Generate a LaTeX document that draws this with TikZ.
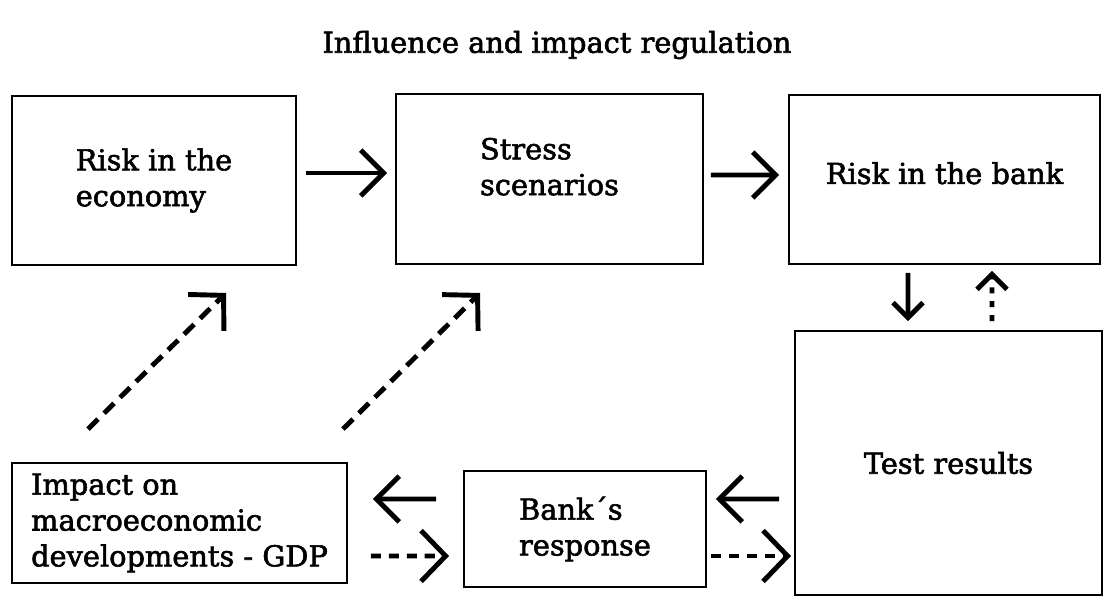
\documentclass[tikz,border=0pt]{standalone}
\usepackage{fontspec}
\setmainfont{DejaVu Serif}[FakeBold=2]
\usepackage{tikz}
\usetikzlibrary{arrows.meta}

\begin{document}
\begin{tikzpicture}
	[main node/.style={rectangle, draw, line width=1.1pt, align=left, inner sep=0pt},
	 solid arrow/.style={line width=2.8pt, -{Straight Barb[length=13pt, width=26pt, line width=2.8pt]}},
	 dash arrow/.style={line width=2.8pt, dash pattern=on 8pt off 4.8pt, -{Straight Barb[length=14pt, width=29pt, line width=2.8pt, line cap=butt]}},
	 dot arrow/.style={line width=2.8pt, dash pattern=on 5.7pt off 4.5pt, -{Straight Barb[length=14pt, width=29pt, line width=2.8pt]}},
	 font=\fontsize{16.4}{20.4}\selectfont]
	\useasboundingbox (0,0) rectangle (22.1,-11.92);

	\node (title) at (11.14,-0.90) {Influence and impact regulation};

	%top row
	\node[main node, minimum width=5.68cm, minimum height=3.38cm] (econ) at (3.08,-3.61) {Risk in the\\economy};
	\node[main node, minimum width=6.14cm, minimum height=3.40cm, text depth=0.5cm] (stress) at (10.99,-3.58) {Stress\\scenarios};
	\node[main node, minimum width=6.22cm, minimum height=3.38cm, text depth=0.26cm] (riskbank) at (18.89,-3.59) {Risk in the bank};

	%bottom row
	\node[main node, minimum width=6.14cm, minimum height=5.28cm] (test) at (18.97,-9.26) {Test results};
	\node[main node, minimum width=4.84cm, minimum height=2.32cm] (response) at (11.70,-10.58) {Bank\textasciiacute s\\response};
	\node[main node, minimum width=6.70cm, minimum height=2.40cm] (impact) at (3.59,-10.46) {Impact on\\macroeconomic\\developments - GDP};

	\draw[solid arrow] ([shift={(0.18,0.15)}]econ.east) -- ([shift={(-0.16,0.12)}]stress.west);
	\draw[solid arrow] ([shift={(0.14,0.08)}]stress.east) -- ([shift={(-0.18,0.09)}]riskbank.west);

	\draw[solid arrow, -{Straight Barb[length=8.5pt, width=17pt, line width=2.8pt]}]
		([shift={(-0.73,-0.16)}]riskbank.south) -- ([xshift=-0.73cm, yshift=0.18cm]riskbank.south |- test.north); %down
	\draw[dot arrow, dash pattern=on 3.4pt off 4.5pt, -{Straight Barb[length=8.5pt, width=17pt, line width=2.8pt]}]
		([xshift=0.95cm, yshift=0.18cm]riskbank.south |- test.north) -- ([shift={(0.95,-0.12)}]riskbank.south); %up

	\draw[dash arrow] ([shift={(-1.83,0.66)}]impact.north) -- ([shift={(1.44,-0.54)}]econ.south);
	\draw[dash arrow] ([shift={(-0.10,0.66)}]impact.north east) -- ([shift={(-1.39,-0.56)}]stress.south);

	\draw[solid arrow] ([shift={(-0.30,-0.72)}]test.west) -- ([shift={(0.18,0.60)}]response.east);
	\draw[dot arrow] ([shift={(0.08,-0.54)}]response.east) -- ([shift={(-0.06,-1.86)}]test.west);
	\draw[solid arrow] ([shift={(-0.54,0.60)}]response.west) -- ([shift={(0.50,0.48)}]impact.east);
	\draw[dot arrow] ([shift={(0.46,-0.66)}]impact.east) -- ([shift={(-0.28,-0.54)}]response.west);
\end{tikzpicture}
\end{document}
